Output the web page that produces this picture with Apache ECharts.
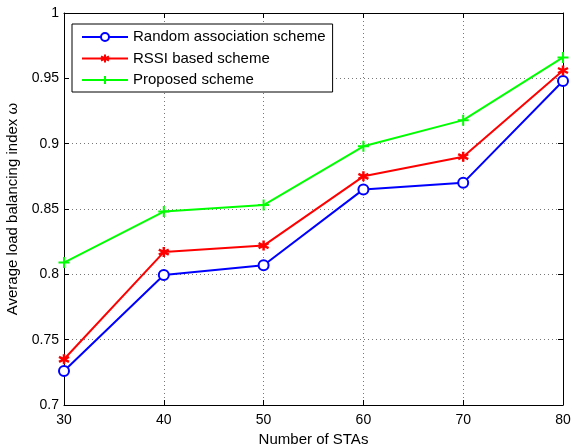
<!DOCTYPE html>
<html><head><meta charset="utf-8">
<script src="https://cdn.jsdelivr.net/npm/echarts@6/dist/echarts.min.js"></script>
<style>html,body{margin:0;padding:0;background:#fff}#c{width:572px;height:446px}</style>
</head><body><div id="c"></div>
<script>
const categories = [30, 40, 50, 60, 70, 80];
const randomScheme = [0.726, 0.7995, 0.807, 0.865, 0.870, 0.948];
const rssiScheme = [0.735, 0.817, 0.822, 0.875, 0.890, 0.956];
const proposedScheme = [0.809, 0.848, 0.853, 0.898, 0.918, 0.966];
const seriesNames = ['Random association scheme', 'RSSI based scheme', 'Proposed scheme'];

const font = 'Liberation Sans, Arial, Helvetica, sans-serif';
const pair = arr => categories.map((x, i) => [x, arr[i]]);
const asterisk = 'path://M0,-1L0,1M-0.866,-0.5L0.866,0.5M-0.866,0.5L0.866,-0.5';
const plus = 'path://M-1,0L1,0M0,-1L0,1';
const gridLine = {show: true, lineStyle: {color: '#777', type: [1, 3], width: 1}};
const axisLine = {show: true, onZero: false, lineStyle: {color: '#000', width: 1}};
const tick = {show: true, inside: true, length: 5, lineStyle: {color: '#000'}};

const chart = echarts.init(document.getElementById('c'));
chart.setOption({
  animation: false,
  textStyle: {fontFamily: font},
  grid: {left: 64, right: 9, top: 13, bottom: 41, containLabel: false, outerBoundsMode: 'none'},
  legend: {
    orient: 'vertical', left: 72, top: 24, itemWidth: 46, itemHeight: 10, itemGap: 5.5,
    padding: [5, 7, 4, 9], borderColor: '#000', borderWidth: 1, backgroundColor: '#fff',
    textStyle: {fontSize: 15, lineHeight: 16, color: '#000', fontFamily: font},
    data: seriesNames
  },
  xAxis: [{
    type: 'value', min: 30, max: 80, interval: 10,
    name: 'Number of STAs', nameLocation: 'middle', nameGap: 23,
    nameTextStyle: {fontSize: 15, color: '#000'},
    axisLine, axisTick: tick, splitLine: gridLine,
    axisLabel: {fontSize: 14, color: '#000', margin: 8}
  }, {
    type: 'value', min: 30, max: 80, interval: 10, position: 'top',
    axisLine, axisTick: tick, splitLine: {show: false}, axisLabel: {show: false}
  }],
  yAxis: [{
    type: 'value', min: 0.7, max: 1, interval: 0.05,
    name: 'Average load balancing index ω', nameLocation: 'middle', nameGap: 42,
    nameTextStyle: {fontSize: 15, color: '#000'},
    axisLine, axisTick: tick, splitLine: gridLine,
    axisLabel: {fontSize: 14, color: '#000', margin: 5}
  }, {
    type: 'value', min: 0.7, max: 1, interval: 0.05, position: 'right',
    axisLine, axisTick: tick, splitLine: {show: false}, axisLabel: {show: false}
  }],
  series: [{
    name: seriesNames[0], type: 'line', data: pair(randomScheme),
    symbol: 'emptyCircle', symbolSize: 10,
    lineStyle: {color: '#0000ff', width: 2},
    itemStyle: {color: '#0000ff', borderColor: '#0000ff', borderWidth: 2}
  }, {
    name: seriesNames[1], type: 'line', data: pair(rssiScheme),
    symbol: asterisk, symbolSize: 10,
    lineStyle: {color: '#ff0000', width: 2},
    itemStyle: {color: '#ff0000', borderColor: '#ff0000', borderWidth: 2.5}
  }, {
    name: seriesNames[2], type: 'line', data: pair(proposedScheme),
    symbol: plus, symbolSize: 11,
    lineStyle: {color: '#00ff00', width: 2},
    itemStyle: {color: '#00ff00', borderColor: '#00ff00', borderWidth: 2}
  }]
});
</script></body></html>
